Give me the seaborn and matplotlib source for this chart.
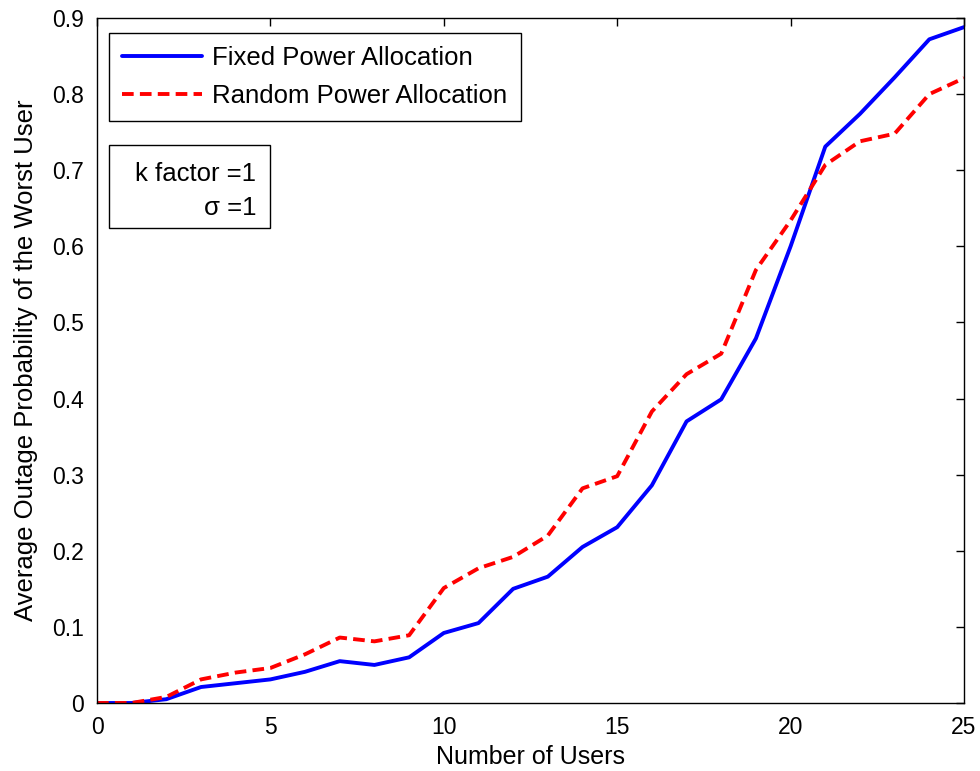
import matplotlib
matplotlib.use("Agg")
import matplotlib.pyplot as plt
from matplotlib.patches import Rectangle
import seaborn as sns

users = list(range(0, 26))
fixed_power = [0.0, 0.0, 0.005, 0.021, 0.026, 0.031, 0.041, 0.055, 0.050, 0.060,
               0.092, 0.105, 0.150, 0.166, 0.205, 0.231, 0.286, 0.370, 0.399, 0.479,
               0.600, 0.731, 0.774, 0.822, 0.872, 0.888]
random_power = [0.0, 0.0, 0.008, 0.031, 0.040, 0.046, 0.064, 0.086, 0.081, 0.089,
                0.151, 0.177, 0.192, 0.220, 0.282, 0.298, 0.383, 0.432, 0.459, 0.569,
                0.634, 0.707, 0.738, 0.748, 0.800, 0.821]
xticks = [0, 5, 10, 15, 20, 25]
yticks = [0, 0.1, 0.2, 0.3, 0.4, 0.5, 0.6, 0.7, 0.8, 0.9]
yticklabels = ['0', '0.1', '0.2', '0.3', '0.4', '0.5', '0.6', '0.7', '0.8', '0.9']

sns.set_theme(style="white")
plt.rcParams['font.family'] = ['Liberation Sans', 'DejaVu Sans']

fig = plt.figure(figsize=(9.8, 7.71), dpi=100)
ax = fig.add_axes([97/980, 68/771, (964-97)/980, (703-18)/771])

sns.lineplot(x=users, y=fixed_power, ax=ax, color='#0000ff', lw=2.8,
             label='Fixed Power Allocation')
sns.lineplot(x=users, y=random_power, ax=ax, color='#ff0000', lw=2.8,
             linestyle='--', label='Random Power Allocation')
ax.lines[1].set_dashes((3, 1.6))

ax.set_xlim(0, 25)
ax.set_ylim(0, 0.9)
ax.set_xticks(xticks)
ax.set_yticks(yticks)
ax.set_yticklabels(yticklabels)
ax.tick_params(direction='in', length=6, width=1, top=True, right=True,
               labelsize=16.5, color='black', labelcolor='black', pad=9.5)
for s in ax.spines.values():
    s.set_color('black')
    s.set_linewidth(1)
    s.set_visible(True)

ax.set_xlabel('Number of Users', fontsize=18, color='black', labelpad=4)
ax.set_ylabel('Average Outage Probability of the Worst User', fontsize=18.5,
              color='black', labelpad=10)

leg = ax.legend(loc='upper left', bbox_to_anchor=((109-97)/867, 1 - (33-18)/685),
                prop={'size': 18.5}, frameon=True, fancybox=False, edgecolor='black',
                framealpha=1, handlelength=3.1, borderpad=0.52, labelspacing=0.52,
                handletextpad=0.4, borderaxespad=0)
leg.get_frame().set_linewidth(1)
for t in leg.get_texts():
    t.set_color('black')

ax.add_patch(Rectangle(((109-97)/867, 1-(228-18)/685), (270-109)/867, (228-145)/685,
                       transform=ax.transAxes, facecolor='white', edgecolor='black',
                       lw=1, zorder=5))
ax.text((256-97)/867, 1-(181-18)/685, 'k factor =1', transform=ax.transAxes,
        ha='right', va='baseline', fontsize=18.5, color='black', zorder=6)
ax.text((256-97)/867, 1-(215-18)/685, '\u03c3 =1', transform=ax.transAxes,
        ha='right', va='baseline', fontsize=18.5, color='black', zorder=6)

fig.savefig('out.png', dpi=100)
